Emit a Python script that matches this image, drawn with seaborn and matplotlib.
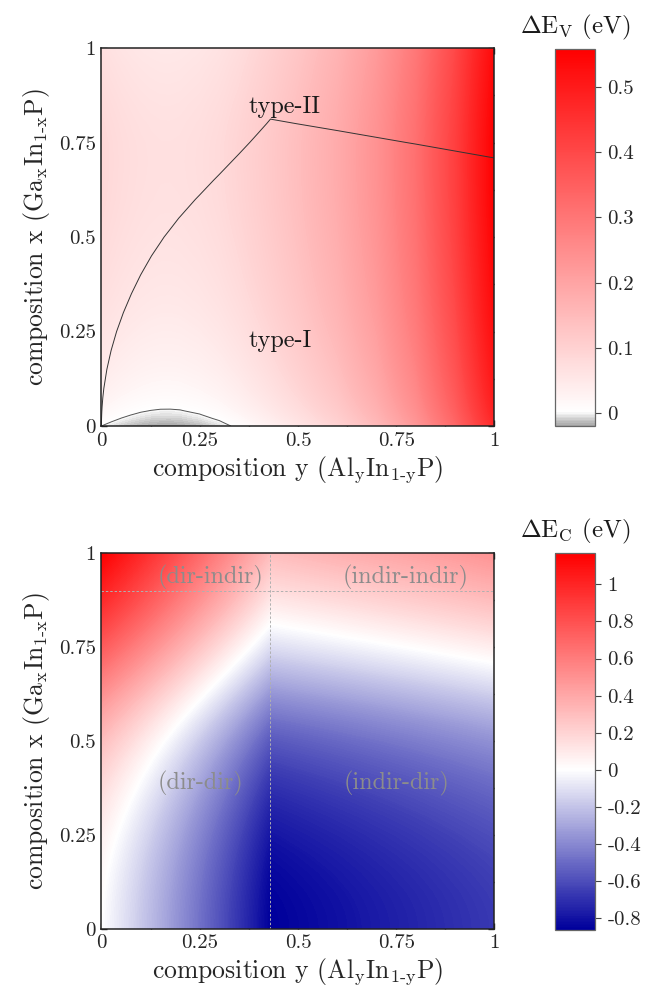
import numpy as np
import matplotlib
matplotlib.use("Agg")
import matplotlib.pyplot as plt
import seaborn as sns
from matplotlib.colors import LinearSegmentedColormap, Normalize
from matplotlib.ticker import MultipleLocator, FuncFormatter

y_al = [0, 0.01, 0.025, 0.05, 0.075, 0.1, 0.125, 0.15, 0.175, 0.2, 0.25,
        0.3, 0.35, 0.4, 0.43, 0.5, 0.6, 0.7, 0.8, 0.9, 1.0]
x_ga = [0, 0.01, 0.02, 0.03, 0.04, 0.05, 0.075, 0.1, 0.15, 0.2, 0.25, 0.3,
        0.35, 0.4, 0.45, 0.5, 0.55, 0.6, 0.65, 0.7, 0.75, 0.8, 0.85, 0.9,
        0.95, 1.0]

# valence band offset (eV) along the bottom edge (x=0) and the left edge (y=0)
dev_bottom = [0, -0.0023, -0.0055, -0.0102, -0.0139, -0.0168, -0.0187,
              -0.0198, -0.0199, -0.0192, -0.0149, -0.0071, 0.005, 0.02,
              0.03, 0.055, 0.095, 0.15, 0.225, 0.33, 0.468]
dev_left = [0, 0.005, 0.0098, 0.0142, 0.0182, 0.0218, 0.0295, 0.036, 0.046,
            0.054, 0.061, 0.067, 0.072, 0.076, 0.0795, 0.0825, 0.085, 0.087,
            0.088, 0.0885, 0.088, 0.086, 0.083, 0.079, 0.075, 0.07]

# conduction band offset (eV) along the same two edges
dec_bottom = [0, -0.0181, -0.0453, -0.0913, -0.1378, -0.185, -0.2328,
              -0.2813, -0.3303, -0.38, -0.4813, -0.585, -0.6913, -0.8,
              -0.866, -0.843, -0.81, -0.776, -0.742, -0.706, -0.67]
dec_left = [0, 0.0001, 0.0004, 0.001, 0.0018, 0.0028, 0.0062, 0.011, 0.0249,
            0.0445, 0.0701, 0.102, 0.1401, 0.1845, 0.237, 0.2995, 0.3733,
            0.4595, 0.5539, 0.652, 0.7501, 0.8445, 0.9339, 1.017, 1.0945,
            1.167]

# offsets of the two separate alloys add up: table rows = x, columns = y
dEv = np.add.outer(dev_left, dev_bottom)
dEc = np.add.outer(dec_left, dec_bottom)

ev_lim = (-0.02, 0.558)
ec_lim = (-0.866, 1.17)
ev_ticks = [0, 0.1, 0.2, 0.3, 0.4, 0.5]
ec_ticks = [-0.8, -0.6, -0.4, -0.2, 0, 0.2, 0.4, 0.6, 0.8, 1]

sns.set_theme(style="ticks")
plt.rcParams["font.family"] = ["cmr10", "DejaVu Serif"]
plt.rcParams["mathtext.fontset"] = "cm"
plt.rcParams["axes.unicode_minus"] = False
plt.rcParams["text.color"] = "#1a1a1a"


def make_cmap(low, lim):
    # white sits at zero on a linear colour axis
    z = -lim[0] / (lim[1] - lim[0])
    return LinearSegmentedColormap.from_list("c", [(0, low), (z, "white"), (1, "red")])


fmt = FuncFormatter(lambda v, p: f"{v:g}")


def draw_panel(ax, cax, table, lim, low, cticks, ctitle):
    levels = np.linspace(lim[0] - 1e-6, lim[1] + 1e-6, 500)
    cs = ax.contourf(y_al, x_ga, table, levels=levels,
                     cmap=make_cmap(low, lim), norm=Normalize(*lim),
                     antialiased=False)
    ax.set_xlim(0, 1)
    ax.set_ylim(0, 1)
    for axis in (ax.xaxis, ax.yaxis):
        axis.set_major_locator(MultipleLocator(0.25))
        axis.set_minor_locator(MultipleLocator(0.125))
        axis.set_major_formatter(fmt)
    ax.tick_params(which="both", direction="in", top=True, right=True,
                   width=1, color="#222222", labelsize=15, pad=4)
    ax.tick_params(which="major", length=4.5)
    ax.tick_params(which="minor", length=2.5)
    for s in ax.spines.values():
        s.set_linewidth(1.1)
        s.set_color("#222222")
    ax.set_xlabel(r"composition y (Al$_\mathrm{y}$In$_{\mathrm{1\text{-}y}}$P)",
                  fontsize=18.5, labelpad=3)
    ax.set_ylabel(r"composition x (Ga$_\mathrm{x}$In$_{\mathrm{1\text{-}x}}$P)",
                  fontsize=18.5, labelpad=5)

    cb = plt.colorbar(cs, cax=cax)
    cb.set_ticks(cticks)
    cb.ax.set_ylim(*lim)
    cb.ax.yaxis.set_major_formatter(fmt)
    cb.ax.minorticks_off()
    cb.outline.set_edgecolor("#666666")
    cb.outline.set_linewidth(0.9)
    cax.tick_params(direction="out", length=4, width=0.8, color="#444444",
                    labelsize=15, pad=5)
    cax.set_title(ctitle, fontsize=18, pad=11)
    return cs


fig = plt.figure(figsize=(6.61, 9.91), dpi=100)
ax1 = fig.add_axes([0.1535, 0.5701, 0.5946, 0.3814])
cax1 = fig.add_axes([0.8396, 0.5701, 0.0605, 0.3804])
ax2 = fig.add_axes([0.1535, 0.0626, 0.5946, 0.3794])
cax2 = fig.add_axes([0.8396, 0.0616, 0.0605, 0.3804])

# top: valence band offset with the type-I / type-II boundary
draw_panel(ax1, cax1, dEv, ev_lim, "#a6a6a6", ev_ticks,
           r"$\Delta$E$_\mathrm{V}$ (eV)")
ax1.contour(y_al, x_ga, dEv, levels=[0], colors="#555555", linewidths=0.7)
ax1.contour(y_al, x_ga, dEc, levels=[0], colors="#333333", linewidths=0.7)
ax1.text(0.467, 0.845, "type-II", fontsize=17.5, ha="center", va="center")
ax1.text(0.455, 0.226, "type-I", fontsize=17.5, ha="center", va="center")

# bottom: conduction band offset with direct/indirect crossovers
draw_panel(ax2, cax2, dEc, ec_lim, (0.0, 0.0, 0.61), ec_ticks,
           r"$\Delta$E$_\mathrm{C}$ (eV)")
ax2.axvline(0.43, color="#b0b0b0", lw=0.7, ls=(0, (2.5, 2)))
ax2.axhline(0.9, color="#b0b0b0", lw=0.7, ls=(0, (2.5, 2)))
lab = dict(fontsize=17.5, ha="center", va="center", color="#8c8c8c")
ax2.text(0.277, 0.936, "(dir-indir)", **lab)
ax2.text(0.775, 0.936, "(indir-indir)", **lab)
ax2.text(0.253, 0.388, "(dir-dir)", **lab)
ax2.text(0.75, 0.388, "(indir-dir)", **lab)

fig.savefig("out.png", dpi=100)
